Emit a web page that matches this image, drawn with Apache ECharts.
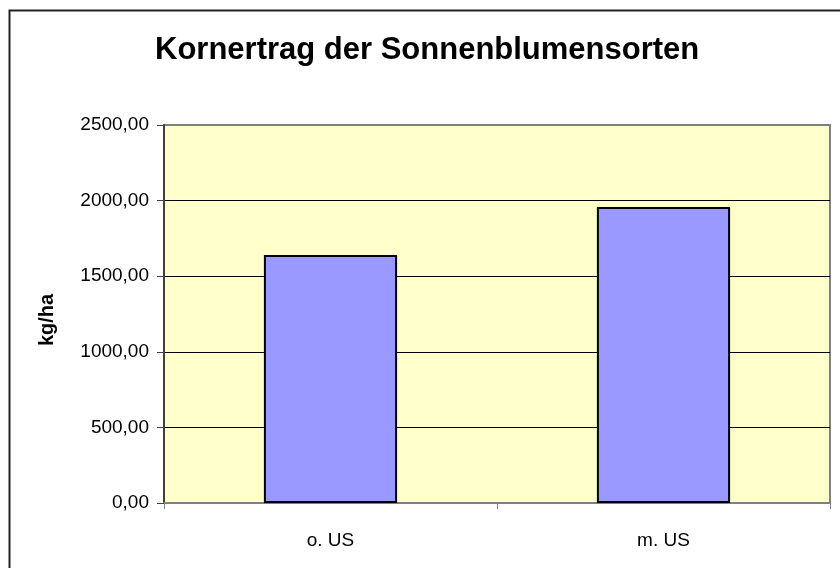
<!DOCTYPE html>
<html>
<head>
<meta charset="utf-8">
<script src="https://cdn.jsdelivr.net/npm/echarts@6/dist/echarts.min.js"></script>
<style>html,body{margin:0;padding:0;background:#fff}#c{width:840px;height:568px}</style>
</head>
<body>
<div id="c"></div>
<script>
var categories = ['o. US', 'm. US'];
var yieldValues = [1640, 1958];
var yTicks = {min: 0, max: 2500, interval: 500};
var titleText = 'Kornertrag der Sonnenblumensorten';
var yName = 'kg/ha';

var chart = echarts.init(document.getElementById('c'));
chart.setOption({
  animation: false,
  backgroundColor: '#ffffff',
  graphic: [{
    type: 'rect', left: 7, top: 8, z: 0,
    shape: {width: 900, height: 700},
    style: {fill: 'none', stroke: '#222222', lineWidth: 2}
  }],
  title: {
    text: titleText, left: 150, top: 30,
    textStyle: {fontFamily: 'Liberation Sans, Arial', fontWeight: 'bold', fontSize: 31, color: '#000'}
  },
  grid: {
    left: 164, right: 10, top: 125, bottom: 65,
    show: true, backgroundColor: '#FFFFCC', borderColor: '#808080', borderWidth: 2
  },
  xAxis: {
    type: 'category', data: categories,
    axisLine: {lineStyle: {color: '#808080', width: 2}},
    axisTick: {show: true, length: 6, interval: 0, lineStyle: {color: '#808080'}},
    axisLabel: {color: '#000', fontSize: 19, fontFamily: 'Liberation Sans, Arial', margin: 28}
  },
  yAxis: {
    type: 'value', min: yTicks.min, max: yTicks.max, interval: yTicks.interval,
    name: yName, nameLocation: 'middle', nameGap: 107, nameRotate: 90,
    nameTextStyle: {fontFamily: 'Liberation Sans, Arial', fontWeight: 'bold', fontSize: 20, color: '#000', padding: [0, 12, 0, 0]},
    axisLine: {show: true, lineStyle: {color: '#404040', width: 2}},
    axisTick: {show: true, length: 7, lineStyle: {color: '#404040'}},
    axisLabel: {
      color: '#000', fontSize: 19, fontFamily: 'Liberation Sans, Arial', margin: 15,
      formatter: function (v) { return v.toFixed(2).replace('.', ','); }
    },
    splitLine: {showMinLine: false, showMaxLine: false, lineStyle: {color: '#000', width: 1}}
  },
  series: [{
    type: 'bar', data: yieldValues, barWidth: '40%',
    itemStyle: {color: '#9999FF', borderColor: '#000', borderWidth: 2}
  }]
});
</script>
</body>
</html>
